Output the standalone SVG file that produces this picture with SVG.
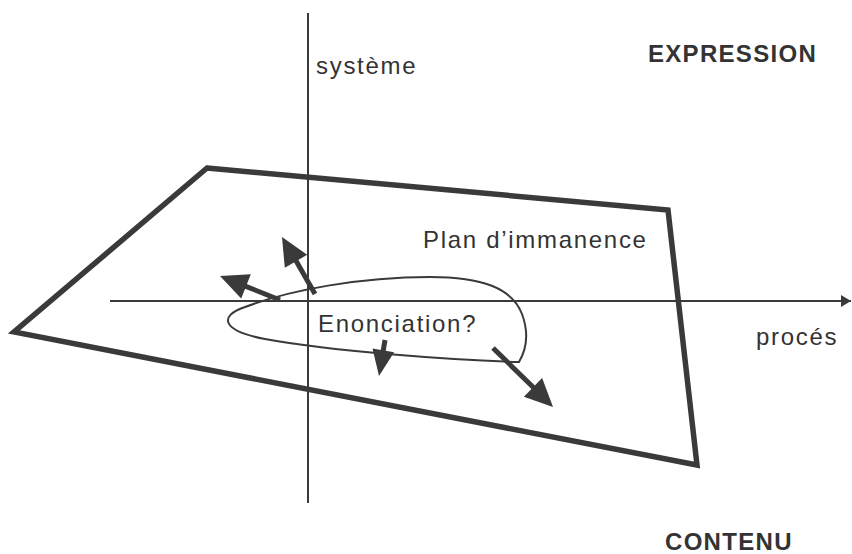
<svg xmlns="http://www.w3.org/2000/svg" width="852" height="554" viewBox="0 0 852 554">
<defs>
<marker id="axhead" markerUnits="userSpaceOnUse" markerWidth="12" markerHeight="12" refX="10" refY="6" orient="auto">
<path d="M0,0 L10,6 L0,12 Z" fill="#3a3a3a"/>
</marker>
</defs>
<style>
.t{font-family:"Liberation Sans",Arial,sans-serif;font-size:24px;fill:#333;letter-spacing:1.7px}
.b{font-family:"Liberation Sans",Arial,sans-serif;font-size:24px;font-weight:bold;fill:#333;letter-spacing:1.3px}
.ax{stroke:#3a3a3a;stroke-width:2;fill:none}
.sh{stroke:#3a3a3a;stroke-width:5;fill:none}
.hd{fill:#3a3a3a;stroke:none}
</style>
<rect width="852" height="554" fill="#fff"/>
<g id="plan">
<polygon points="207,168 668,210 697,465 14,332" fill="none" stroke="#3a3a3a" stroke-width="5.5" stroke-linejoin="miter"/>
<text class="t" x="423" y="248">Plan d’immanence</text>
</g>
<g id="connectors">
<line class="ax" x1="308" y1="13" x2="308" y2="503"/>
<line class="ax" x1="110" y1="301" x2="851" y2="301" marker-end="url(#axhead)"/>
<line class="sh" x1="280" y1="300" x2="244" y2="285.6"/>
<polygon class="hd" points="220,276 250.8,274.3 241.2,298.5"/>
<line class="sh" x1="315" y1="294" x2="295" y2="259"/>
<polygon class="hd" points="282,237 307.2,254.7 284.8,267.7"/>
<line class="sh" x1="385" y1="340" x2="383" y2="352"/>
<polygon class="hd" points="379,376 394.1,352.2 372.5,348.6"/>
<line class="sh" x1="493" y1="348" x2="535" y2="389"/>
<polygon class="hd" points="553,407 523.9,396.7 542.1,378.1"/>
</g>
<g id="enonciation">
<path d="M519 362 C450 360 330 351 265 339 C222 331 218 316 245 307 C290 290 360 277 430 277 C482 277 512 288 522 314 C529 333 526 350 519 362 Z" fill="none" stroke="#3a3a3a" stroke-width="2"/>
<text class="t" x="318" y="332">Enonciation?</text>
</g>
<g id="systeme"><text class="t" x="316" y="74">système</text></g>
<g id="proces"><text class="t" x="756" y="345">procés</text></g>
<g id="expression"><text class="b" x="648" y="62">EXPRESSION</text></g>
<g id="contenu"><text class="b" x="665" y="550">CONTENU</text></g>
</svg>
